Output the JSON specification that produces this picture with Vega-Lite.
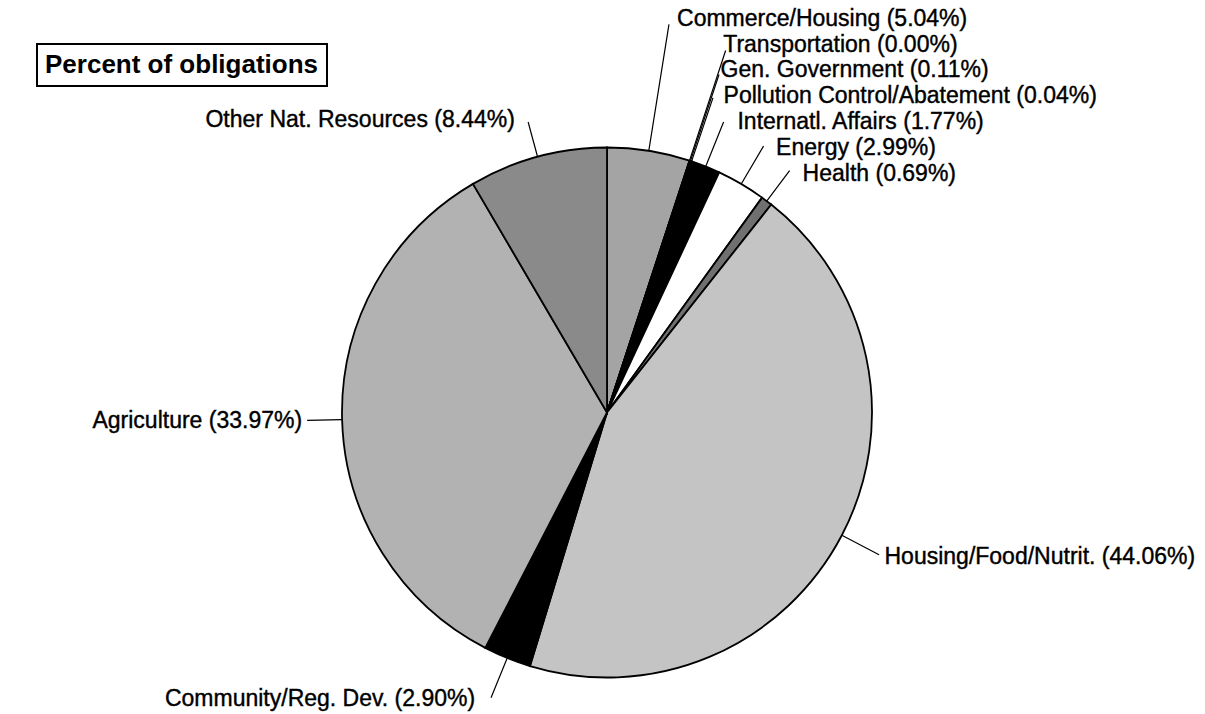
{
  "$schema": "https://vega.github.io/schema/vega-lite/v6.json",
  "width": 1196,
  "height": 603,
  "autosize": {"type": "none"},
  "padding": {"left": 9, "top": 111, "right": 0, "bottom": 0},
  "background": "white",
  "data": {
    "values": [
      {"idx": 1, "cat": "Commerce/Housing", "label": "Commerce/Housing (5.04%)", "pct": 5.04},
      {"idx": 2, "cat": "Transportation", "label": "Transportation (0.00%)", "pct": 0.0},
      {"idx": 3, "cat": "Gen. Government", "label": "Gen. Government (0.11%)", "pct": 0.11},
      {"idx": 4, "cat": "Pollution Control/Abatement", "label": "Pollution Control/Abatement (0.04%)", "pct": 0.04},
      {"idx": 5, "cat": "Internatl. Affairs", "label": "Internatl. Affairs (1.77%)", "pct": 1.77},
      {"idx": 6, "cat": "Energy", "label": "Energy (2.99%)", "pct": 2.99},
      {"idx": 7, "cat": "Health", "label": "Health (0.69%)", "pct": 0.69},
      {"idx": 8, "cat": "Housing/Food/Nutrit.", "label": "Housing/Food/Nutrit. (44.06%)", "pct": 44.06},
      {"idx": 9, "cat": "Community/Reg. Dev.", "label": "Community/Reg. Dev. (2.90%)", "pct": 2.9},
      {"idx": 10, "cat": "Agriculture", "label": "Agriculture (33.97%)", "pct": 33.97},
      {"idx": 11, "cat": "Other Nat. Resources", "label": "Other Nat. Resources (8.44%)", "pct": 8.44}
    ]
  },
  "encoding": {
    "theta": {"field": "pct", "type": "quantitative", "stack": true},
    "order": {"field": "idx", "type": "quantitative"}
  },
  "layer": [
    {
      "mark": {"type": "arc", "outerRadius": 265, "stroke": "black", "strokeWidth": 1.8},
      "encoding": {
        "fill": {
          "field": "cat",
          "type": "nominal",
          "scale": {
            "domain": ["Commerce/Housing", "Transportation", "Gen. Government", "Pollution Control/Abatement", "Internatl. Affairs", "Energy", "Health", "Housing/Food/Nutrit.", "Community/Reg. Dev.", "Agriculture", "Other Nat. Resources"],
            "range": ["#a4a4a4", "#000000", "#000000", "#000000", "#000000", "#ffffff", "#707070", "#c4c4c4", "#000000", "#b2b2b2", "#8a8a8a"]
          },
          "legend": {
            "values": [],
            "title": "Percent of obligations",
            "orient": "none",
            "legendX": 28,
            "legendY": -67,
            "padding": 8,
            "strokeColor": "black",
            "fillColor": "white",
            "titleFont": "Liberation Sans",
            "titleFontSize": 26,
            "titleFontWeight": "bold",
            "titleColor": "black",
            "titleLimit": 1000,
            "titlePadding": 0
          }
        }
      }
    },
    {"mark": {"type": "arc", "innerRadius": 265, "outerRadius": 393, "padAngle": 3, "fill": "transparent", "stroke": "black", "strokeWidth": 1.2},
     "encoding": {"strokeOpacity": {"condition": {"test": "datum.cat === 'Commerce/Housing'", "value": 1}, "value": 0}}},
    {"mark": {"type": "arc", "innerRadius": 265, "outerRadius": 381, "padAngle": 3, "fill": "transparent", "stroke": "black", "strokeWidth": 1.2},
     "encoding": {"strokeOpacity": {"condition": {"test": "datum.cat === 'Transportation'", "value": 1}, "value": 0}}},
    {"mark": {"type": "arc", "innerRadius": 265, "outerRadius": 356, "padAngle": 3, "fill": "transparent", "stroke": "black", "strokeWidth": 1.2},
     "encoding": {"strokeOpacity": {"condition": {"test": "datum.cat === 'Gen. Government'", "value": 1}, "value": 0}}},
    {"mark": {"type": "arc", "innerRadius": 265, "outerRadius": 332, "padAngle": 3, "fill": "transparent", "stroke": "black", "strokeWidth": 1.2},
     "encoding": {"strokeOpacity": {"condition": {"test": "datum.cat === 'Pollution Control/Abatement'", "value": 1}, "value": 0}}},
    {"mark": {"type": "arc", "innerRadius": 265, "outerRadius": 313, "padAngle": 3, "fill": "transparent", "stroke": "black", "strokeWidth": 1.2},
     "encoding": {"strokeOpacity": {"condition": {"test": "datum.cat === 'Internatl. Affairs'", "value": 1}, "value": 0}}},
    {"mark": {"type": "arc", "innerRadius": 265, "outerRadius": 309, "padAngle": 3, "fill": "transparent", "stroke": "black", "strokeWidth": 1.2},
     "encoding": {"strokeOpacity": {"condition": {"test": "datum.cat === 'Energy'", "value": 1}, "value": 0}}},
    {"mark": {"type": "arc", "innerRadius": 265, "outerRadius": 303, "padAngle": 3, "fill": "transparent", "stroke": "black", "strokeWidth": 1.2},
     "encoding": {"strokeOpacity": {"condition": {"test": "datum.cat === 'Health'", "value": 1}, "value": 0}}},
    {"mark": {"type": "arc", "innerRadius": 265, "outerRadius": 307, "padAngle": 3, "fill": "transparent", "stroke": "black", "strokeWidth": 1.2},
     "encoding": {"strokeOpacity": {"condition": {"test": "datum.cat === 'Housing/Food/Nutrit.'", "value": 1}, "value": 0}}},
    {"mark": {"type": "arc", "innerRadius": 265, "outerRadius": 308, "padAngle": 3, "fill": "transparent", "stroke": "black", "strokeWidth": 1.2},
     "encoding": {"strokeOpacity": {"condition": {"test": "datum.cat === 'Community/Reg. Dev.'", "value": 1}, "value": 0}}},
    {"mark": {"type": "arc", "innerRadius": 265, "outerRadius": 300, "padAngle": 3, "fill": "transparent", "stroke": "black", "strokeWidth": 1.2},
     "encoding": {"strokeOpacity": {"condition": {"test": "datum.cat === 'Agriculture'", "value": 1}, "value": 0}}},
    {"mark": {"type": "arc", "innerRadius": 265, "outerRadius": 301, "padAngle": 3, "fill": "transparent", "stroke": "black", "strokeWidth": 1.2},
     "encoding": {"strokeOpacity": {"condition": {"test": "datum.cat === 'Other Nat. Resources'", "value": 1}, "value": 0}}},
    {"mark": {"type": "text", "radius": 400, "align": "left", "baseline": "middle", "dx": 7, "dy": 1, "font": "Liberation Sans", "fontSize": 23, "color": "black", "stroke": "black", "strokeWidth": 0.4},
     "encoding": {"text": {"condition": {"test": "datum.cat === 'Commerce/Housing'", "field": "label"}, "value": ""}}},
    {"mark": {"type": "text", "radius": 386, "align": "left", "baseline": "middle", "dx": -4, "dy": -1, "font": "Liberation Sans", "fontSize": 23, "color": "black", "stroke": "black", "strokeWidth": 0.4},
     "encoding": {"text": {"condition": {"test": "datum.cat === 'Transportation'", "field": "label"}, "value": ""}}},
    {"mark": {"type": "text", "radius": 361, "align": "left", "baseline": "middle", "font": "Liberation Sans", "fontSize": 23, "color": "black", "stroke": "black", "strokeWidth": 0.4},
     "encoding": {"text": {"condition": {"test": "datum.cat === 'Gen. Government'", "field": "label"}, "value": ""}}},
    {"mark": {"type": "text", "radius": 337, "align": "left", "baseline": "middle", "dx": 9, "dy": 3, "font": "Liberation Sans", "fontSize": 23, "color": "black", "stroke": "black", "strokeWidth": 0.4},
     "encoding": {"text": {"condition": {"test": "datum.cat === 'Pollution Control/Abatement'", "field": "label"}, "value": ""}}},
    {"mark": {"type": "text", "radius": 318, "align": "left", "baseline": "middle", "dx": 12, "dy": 5, "font": "Liberation Sans", "fontSize": 23, "color": "black", "stroke": "black", "strokeWidth": 0.4},
     "encoding": {"text": {"condition": {"test": "datum.cat === 'Internatl. Affairs'", "field": "label"}, "value": ""}}},
    {"mark": {"type": "text", "radius": 314, "align": "left", "baseline": "middle", "dx": 10, "dy": 6, "font": "Liberation Sans", "fontSize": 23, "color": "black", "stroke": "black", "strokeWidth": 0.4},
     "encoding": {"text": {"condition": {"test": "datum.cat === 'Energy'", "field": "label"}, "value": ""}}},
    {"mark": {"type": "text", "radius": 308, "align": "left", "baseline": "middle", "dx": 10, "dy": 7, "font": "Liberation Sans", "fontSize": 23, "color": "black", "stroke": "black", "strokeWidth": 0.4},
     "encoding": {"text": {"condition": {"test": "datum.cat === 'Health'", "field": "label"}, "value": ""}}},
    {"mark": {"type": "text", "radius": 312, "align": "left", "baseline": "middle", "dx": 1, "dy": 0, "font": "Liberation Sans", "fontSize": 23, "color": "black", "stroke": "black", "strokeWidth": 0.4},
     "encoding": {"text": {"condition": {"test": "datum.cat === 'Housing/Food/Nutrit.'", "field": "label"}, "value": ""}}},
    {"mark": {"type": "text", "radius": 313, "align": "right", "baseline": "middle", "dx": -14, "dy": -3, "font": "Liberation Sans", "fontSize": 23, "color": "black", "stroke": "black", "strokeWidth": 0.4},
     "encoding": {"text": {"condition": {"test": "datum.cat === 'Community/Reg. Dev.'", "field": "label"}, "value": ""}}},
    {"mark": {"type": "text", "radius": 305, "align": "right", "baseline": "middle", "font": "Liberation Sans", "fontSize": 23, "color": "black", "stroke": "black", "strokeWidth": 0.4},
     "encoding": {"text": {"condition": {"test": "datum.cat === 'Agriculture'", "field": "label"}, "value": ""}}},
    {"mark": {"type": "text", "radius": 306, "align": "right", "baseline": "middle", "dx": -12, "dy": 3, "font": "Liberation Sans", "fontSize": 23, "color": "black", "stroke": "black", "strokeWidth": 0.4},
     "encoding": {"text": {"condition": {"test": "datum.cat === 'Other Nat. Resources'", "field": "label"}, "value": ""}}}
  ],
  "config": {
    "view": {"stroke": null},
    "font": "Liberation Sans",
    "legend": {"strokeWidth": 2}
  }
}
